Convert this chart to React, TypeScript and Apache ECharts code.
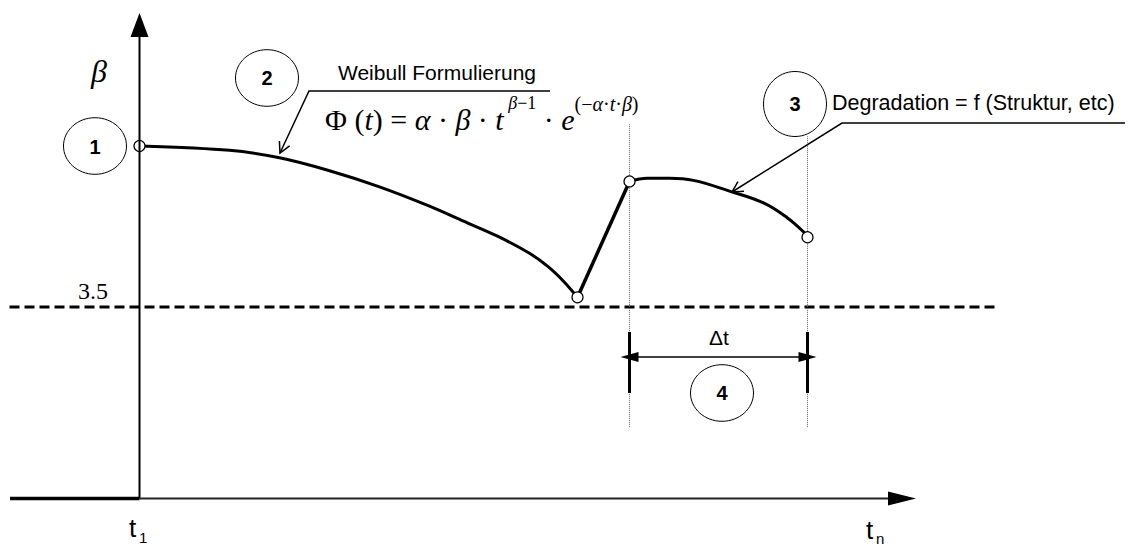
import React, { useEffect, useRef } from "react";
import * as echarts from "echarts";

const W = 1136;
const H = 547;

// ---- data (t = time units, beta = reliability index) ----
const weibullT = [0, 4.5, 7.0, 9.5, 12.0, 14.5, 16.2, 17.9, 19.5, 20.4, 21.2, 21.9];
const weibullBeta = [5.0, 4.96, 4.89, 4.77, 4.62, 4.44, 4.3, 4.16, 4.0, 3.88, 3.74, 3.59];
const repairT = [21.9, 24.5];
const repairBeta = [3.59, 4.67];
const degradT = [24.5, 25.4, 26.5, 27.7, 29.5, 31.2, 32.4, 33.2, 33.4];
const degradBeta = [4.67, 4.7, 4.7, 4.68, 4.58, 4.47, 4.33, 4.2, 4.15];
const keyT = [0, 21.9, 24.5, 33.4];
const keyBeta = [5.0, 3.59, 4.67, 4.15];
const threshold = 3.5;
const thresholdLabel = "3.5";
const thresholdRange = [-6.5, 43.0];
const dtStart = 24.5;
const dtEnd = 33.4;
const dtBeta = 3.034;
const dtBarBeta = [2.699, 3.267];
const guideLeftBeta = [2.38, 5.2];
const guideRightBeta = [2.38, 5.09];
const dtLabel = "\u0394t";
const axisLabels = { beta: "\u03b2", t: "t", first: "1", last: "n" };

// ---- scale layout ----
const T_ORIGIN_PX = 139.5;
const PX_PER_T = 20;
const B_REF = 3.5;
const B_REF_PX = 307;
const PX_PER_B = 107.33;
const xMin = -T_ORIGIN_PX / PX_PER_T;
const xMax = xMin + W / PX_PER_T;
const yMax = B_REF + B_REF_PX / PX_PER_B;
const yMin = yMax - H / PX_PER_B;

const zip = (a: number[], b: number[]) => a.map((v, i) => [v, b[i]]);

function arrowHead(fx: number, fy: number, tx: number, ty: number, len: number, ang: number) {
  const dx = fx - tx;
  const dy = fy - ty;
  const n = Math.hypot(dx, dy);
  const bx = dx / n;
  const by = dy / n;
  const c = Math.cos(ang);
  const s = Math.sin(ang);
  const a1 = [tx + len * (bx * c - by * s), ty + len * (bx * s + by * c)];
  const a2 = [tx + len * (bx * c + by * s), ty + len * (-bx * s + by * c)];
  return {
    type: "polyline",
    shape: { points: [a1, [tx, ty], a2] },
    style: { stroke: "#000", lineWidth: 1.5, fill: null },
    z: 100,
  };
}

const SANS = "'Liberation Sans', Arial, sans-serif";
const NARROW = "'Liberation Sans Narrow', 'Liberation Sans', Arial, sans-serif";
const SERIF = "'Liberation Serif', 'Times New Roman', serif";

function ellipse(cx: number, cy: number, rx: number, ry: number) {
  return {
    type: "ellipse",
    shape: { cx, cy, rx, ry },
    style: { fill: null, stroke: "#000", lineWidth: 1 },
    z: 100,
  };
}

function txt(x: number, y: number, text: string, font: any, align = "center", extra: any = {}) {
  return {
    type: "text",
    x,
    y,
    style: { text, align, verticalAlign: "middle", fill: "#000", ...font, ...extra },
    z: 100,
  };
}

export default function App() {
  const ref = useRef<HTMLDivElement>(null);
  useEffect(() => {
    if (!ref.current) return;
    const chart = echarts.init(ref.current, undefined, { renderer: "svg" });
    const lineBase = { type: "line", symbol: "none", silent: true, animation: false };
    const mainN = { fontFamily: SERIF, fontSize: 30, lineHeight: 50, verticalAlign: "middle" };
    const mainI = { ...mainN, fontStyle: "italic" };
    const supN = { fontFamily: SERIF, fontSize: 18, lineHeight: 8, verticalAlign: "top" };
    const supI = { ...supN, fontStyle: "italic" };
    const expN = { fontFamily: SERIF, fontSize: 20, lineHeight: 24, verticalAlign: "top" };
    const expI = { ...expN, fontStyle: "italic" };
    const formula =
      "{n|\u03a6 (}{i|t}{n|) = }{i|\u03b1}{n| \u00b7 }{i|\u03b2}{n| \u00b7 }{i|t}" +
      "{si| \u03b2}{sn|\u22121}" +
      "{n| \u00b7 }{i|e}" +
      "{en|(\u2212}{ei|\u03b1}{en|\u00b7}{ei|t}{en|\u00b7}{ei|\u03b2}{en|)}";
    chart.setOption({
      animation: false,
      grid: { left: 0, right: 0, top: 0, bottom: 0 },
      xAxis: { type: "value", min: xMin, max: xMax, show: false },
      yAxis: { type: "value", min: yMin, max: yMax, show: false },
      series: [
        {
          ...lineBase,
          name: "threshold",
          data: [[thresholdRange[0], threshold], [thresholdRange[1], threshold]],
          lineStyle: { color: "#000", width: 3, type: [10, 5] },
        },
        {
          ...lineBase,
          name: "guideLeft",
          data: [[dtStart, guideLeftBeta[0]], [dtStart, guideLeftBeta[1]]],
          lineStyle: { color: "#666", width: 1, type: [1, 1] },
        },
        {
          ...lineBase,
          name: "guideRight",
          data: [[dtEnd, guideRightBeta[0]], [dtEnd, guideRightBeta[1]]],
          lineStyle: { color: "#666", width: 1, type: [1, 1] },
        },
        {
          ...lineBase,
          name: "barLeft",
          data: [[dtStart, dtBarBeta[0]], [dtStart, dtBarBeta[1]]],
          lineStyle: { color: "#000", width: 3 },
        },
        {
          ...lineBase,
          name: "barRight",
          data: [[dtEnd, dtBarBeta[0]], [dtEnd, dtBarBeta[1]]],
          lineStyle: { color: "#000", width: 3 },
        },
        {
          ...lineBase,
          name: "dt",
          data: [],
          markLine: {
            silent: true,
            symbol: ["triangle", "triangle"],
            symbolSize: [10, 18],
            label: { show: false },
            lineStyle: { color: "#000", width: 1.5, type: "solid" },
            data: [[{ coord: [dtStart, dtBeta] }, { coord: [dtEnd, dtBeta] }]],
          },
        },
        {
          ...lineBase,
          name: "weibull",
          smooth: 0.3,
          data: zip(weibullT, weibullBeta),
          lineStyle: { color: "#000", width: 3 },
          z: 5,
        },
        {
          ...lineBase,
          name: "repair",
          data: zip(repairT, repairBeta),
          lineStyle: { color: "#000", width: 3.5 },
          z: 5,
        },
        {
          ...lineBase,
          name: "degradation",
          smooth: 0.4,
          data: zip(degradT, degradBeta),
          lineStyle: { color: "#000", width: 3 },
          z: 5,
        },
        {
          type: "scatter",
          name: "keys",
          silent: true,
          data: zip(keyT, keyBeta),
          symbol: "circle",
          symbolSize: 11,
          itemStyle: { color: "#fff", borderColor: "#000", borderWidth: 1.2, opacity: 1 },
          z: 10,
        },
      ],
      graphic: [
        // axes
        { type: "line", shape: { x1: 139.5, y1: 498.5, x2: 139.5, y2: 36 }, style: { stroke: "#000", lineWidth: 2 }, z: 50 },
        { type: "polygon", shape: { points: [[139.5, 13], [130.5, 37], [148.5, 37]] }, style: { fill: "#000" }, z: 50 },
        { type: "line", shape: { x1: 10, y1: 498.5, x2: 139.5, y2: 498.5 }, style: { stroke: "#000", lineWidth: 3.5 }, z: 50 },
        { type: "line", shape: { x1: 139.5, y1: 498.5, x2: 890, y2: 498.5 }, style: { stroke: "#222", lineWidth: 2 }, z: 50 },
        { type: "polygon", shape: { points: [[916, 498.5], [888, 491.5], [888, 505.5]] }, style: { fill: "#000" }, z: 50 },
        // axis labels
        txt(99, 71, axisLabels.beta, { fontFamily: SERIF, fontSize: 32, fontStyle: "italic" }),
        txt(108, 291, thresholdLabel, { fontFamily: SERIF, fontSize: 24 }, "right"),
        txt(129, 528, axisLabels.t, { fontFamily: NARROW, fontSize: 26 }, "left"),
        txt(139, 537, axisLabels.first, { fontFamily: NARROW, fontSize: 15 }, "left"),
        txt(866, 530, axisLabels.t, { fontFamily: NARROW, fontSize: 26 }, "left"),
        txt(876, 538, axisLabels.last, { fontFamily: NARROW, fontSize: 15 }, "left"),
        // circle 1
        ellipse(95, 146, 31.5, 28.3),
        txt(95, 147, "1", { fontFamily: SANS, fontSize: 20, fontWeight: "bold" }),
        // circle 2 + Weibull
        ellipse(267, 78, 31.5, 28.3),
        txt(267, 78, "2", { fontFamily: SANS, fontSize: 20, fontWeight: "bold" }),
        txt(437, 72, "Weibull Formulierung", { fontFamily: SANS, fontSize: 21 }),
        {
          type: "polyline",
          shape: { points: [[550, 91], [309, 91], [280, 153]] },
          style: { stroke: "#000", lineWidth: 1.5, fill: null },
          z: 100,
        },
        arrowHead(309, 91, 280, 153, 12, (28 * Math.PI) / 180),
        // formula
        {
          type: "text",
          x: 325,
          y: 119,
          style: {
            text: formula,
            align: "left",
            verticalAlign: "middle",
            fill: "#000",
            rich: { n: mainN, i: mainI, sn: supN, si: supI, en: expN, ei: expI },
          },
          z: 100,
        },
        // circle 3 + degradation
        ellipse(795, 104, 31.5, 32.5),
        txt(795, 104, "3", { fontFamily: SANS, fontSize: 20, fontWeight: "bold" }),
        txt(832, 103, "Degradation = f (Struktur, etc)", { fontFamily: SANS, fontSize: 21.5 }, "left"),
        {
          type: "polyline",
          shape: { points: [[1125, 123], [842, 123], [732, 192]] },
          style: { stroke: "#000", lineWidth: 1.5, fill: null },
          z: 100,
        },
        arrowHead(842, 123, 732, 192, 12, (28 * Math.PI) / 180),
        // delta t + circle 4
        txt(719, 337, dtLabel, { fontFamily: SANS, fontSize: 21 }),
        ellipse(722, 393, 31.5, 28.3),
        txt(722, 393, "4", { fontFamily: SANS, fontSize: 20, fontWeight: "bold" }),
      ],
    });
    return () => chart.dispose();
  }, []);
  return (
    <div
      ref={ref}
      style={{ position: "fixed", left: 0, top: 0, width: W, height: H, background: "#fff" }}
    />
  );
}
